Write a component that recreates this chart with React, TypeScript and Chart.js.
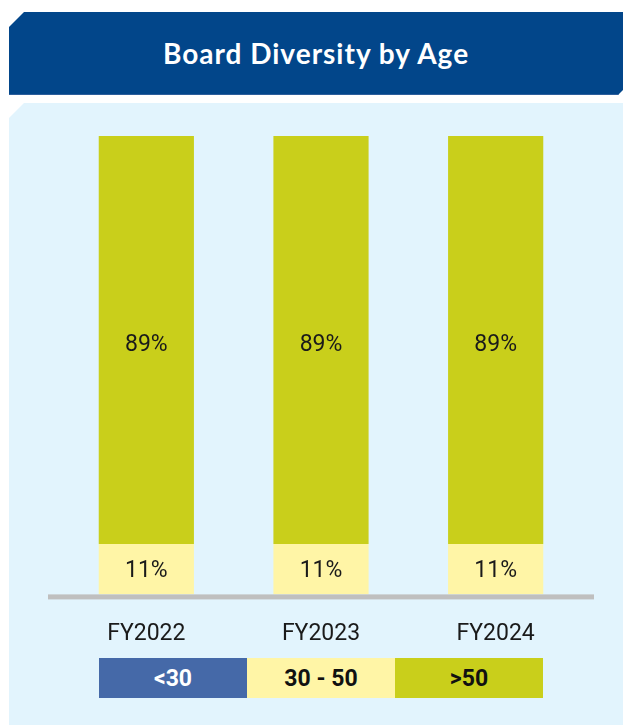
import React, { useEffect, useRef } from "react";
import { Chart, registerables } from "chart.js";

Chart.register(...registerables);

const TITLE = "Board Diversity by Age";
const categories = ["FY2022", "FY2023", "FY2024"];
const seriesNames = ["<30", "30 - 50", ">50"];
const under30 = [0, 0, 0];
const age30to50 = [11, 11, 11];
const over50 = [89, 89, 89];
const seriesColors = ["#4569a8", "#fff5a6", "#c9cf1b"];
const legendTextColors = ["#ffffff", "#111111", "#111111"];

const labelPlugin = {
  id: "barLabels",
  afterDatasetsDraw(chart: any) {
    const ctx = chart.ctx;
    ctx.save();
    ctx.font = "23px Roboto";
    ctx.fillStyle = "#1a1a1a";
    ctx.textAlign = "center";
    ctx.textBaseline = "middle";
    chart.data.datasets.forEach((ds: any, di: number) => {
      const meta = chart.getDatasetMeta(di);
      meta.data.forEach((bar: any, i: number) => {
        const v = ds.data[i];
        if (!v) return;
        const y = (bar.y + bar.base) / 2;
        ctx.fillText(`${v}%`, bar.x, y + (v > 50 ? 5 : 2));
      });
    });
    ctx.restore();
  },
};

const baselinePlugin = {
  id: "baseline",
  afterDatasetsDraw(chart: any) {
    const { ctx, chartArea } = chart;
    ctx.save();
    ctx.fillStyle = "#bfbfbf";
    ctx.fillRect(chartArea.left - 11, chartArea.bottom, chartArea.right - chartArea.left + 22, 5);
    ctx.restore();
  },
};

export default function App() {
  const ref = useRef<HTMLCanvasElement>(null);

  useEffect(() => {
    if (!ref.current) return;
    const series = [under30, age30to50, over50];
    const chart = new Chart(ref.current, {
      type: "bar",
      data: {
        labels: categories,
        datasets: series.map((d, i) => ({
          label: seriesNames[i],
          data: d,
          backgroundColor: seriesColors[i],
          borderWidth: 0,
          categoryPercentage: 1,
          barPercentage: 0.545,
        })),
      },
      options: {
        responsive: false,
        animation: false,
        layout: { padding: { left: 59, right: 40, top: 136, bottom: 51 } },
        plugins: { legend: { display: false }, tooltip: { enabled: false }, title: { display: false } },
        scales: {
          x: {
            stacked: true,
            grid: { display: false, drawTicks: false },
            border: { display: false },
            ticks: { color: "#1a1a1a", font: { family: "Roboto", size: 23 }, padding: 26 },
          },
          y: { stacked: true, display: false, min: 0, max: 100 },
        },
      },
      plugins: [labelPlugin, baselinePlugin],
    });
    return () => chart.destroy();
  }, []);

  return (
    <div style={{ position: "fixed", left: 0, top: 0, width: 623, height: 725, background: "#ffffff", overflow: "hidden" }}>
      <div
        style={{
          position: "absolute",
          left: 9,
          top: 12,
          width: 614,
          height: 83,
          background: "#02468a",
          borderBottom: "1px solid #2c5e9c",
          boxSizing: "border-box",
          clipPath: "polygon(15px 0, 100% 0, 100% calc(100% - 5px), calc(100% - 5px) 100%, 0 100%, 0 15px)",
          display: "flex",
          alignItems: "center",
          justifyContent: "center",
          color: "#ffffff",
          fontFamily: "Lato, 'Noto Sans', sans-serif",
          fontWeight: 700,
          fontSize: 28,
          letterSpacing: 1,
        }}
      >
        {TITLE}
      </div>
      <div
        style={{
          position: "absolute",
          left: 9,
          top: 103,
          width: 614,
          height: 622,
          background: "#e2f4fd",
          clipPath: "polygon(15px 0, 100% 0, 100% 100%, 0 100%, 0 15px)",
        }}
      />
      <canvas ref={ref} width={623} height={725} style={{ position: "absolute", left: 0, top: 0 }} />
      <div style={{ position: "absolute", left: 99, top: 658, display: "flex" }}>
        {seriesNames.map((n, i) => (
          <div
            key={n}
            style={{
              width: 148,
              height: 40,
              background: seriesColors[i],
              color: legendTextColors[i],
              display: "flex",
              alignItems: "center",
              justifyContent: "center",
              fontFamily: "Roboto, sans-serif",
              fontWeight: 700,
              fontSize: 23,
            }}
          >
            {n}
          </div>
        ))}
      </div>
    </div>
  );
}
